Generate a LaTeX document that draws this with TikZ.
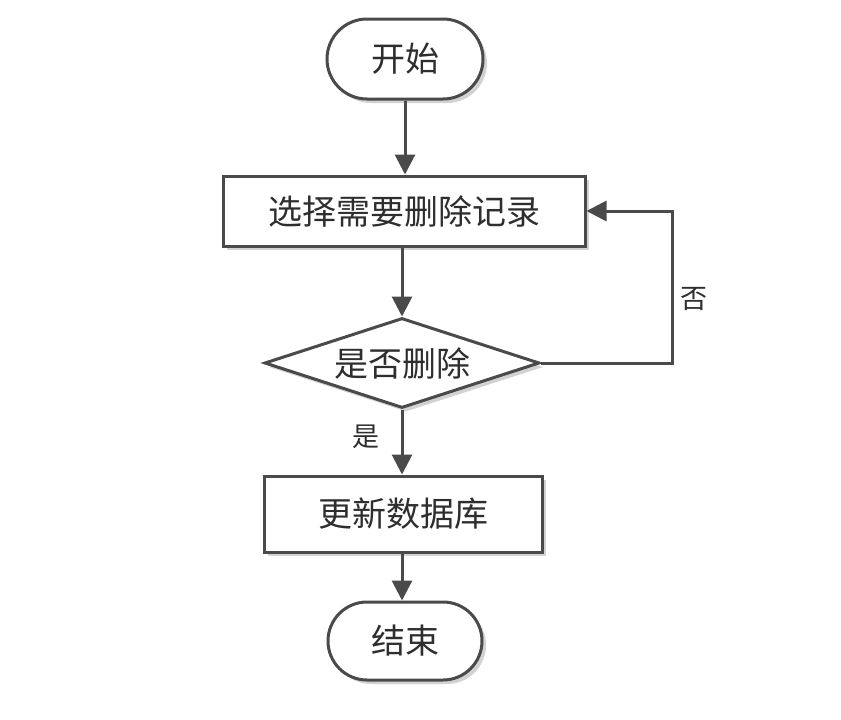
\documentclass[tikz,border=0pt]{standalone}
\usepackage{fontspec}
\newfontfamily\cjk{Noto Sans CJK SC}
\usetikzlibrary{shapes.geometric,shapes.misc,arrows.meta,shadows}
\definecolor{linec}{HTML}{4A4A4A}
\definecolor{textc}{HTML}{2E2E2E}
\begin{document}
\begin{tikzpicture}[x=1pt,y=-1pt,
  base/.style={draw=linec, line width=3pt, fill=white, text=textc, inner sep=0pt,
    font=\cjk\fontsize{34}{38}\selectfont,
    drop shadow={shadow xshift=4pt, shadow yshift=-4pt, fill=gray!35, opacity=1}},
  term/.style={base, rounded rectangle, minimum width=156pt, minimum height=80pt},
  proc/.style={base, rectangle},
  decide/.style={base, diamond, aspect=3, minimum width=275pt, minimum height=90pt},
  arr/.style={draw=linec, line width=3pt, -{Triangle[length=20pt,width=20pt]}},
  lab/.style={text=textc, font=\cjk\fontsize{27}{30}\selectfont, inner sep=0pt}]
\useasboundingbox (0,0) rectangle (841,720);
\node[term] (start) at (405,59) {开始};
\node[proc, minimum width=362pt, minimum height=70pt] (sel) at (404,211) {选择需要删除记录};
\node[decide] (dec) at (402,363) {是否删除};
\node[proc, minimum width=278pt, minimum height=76pt] (upd) at (403,514) {更新数据库};
\node[term, minimum width=154pt, minimum height=78pt] (end) at (405,641) {结束};
\coordinate (c) at (672,363);
\draw[arr] (start.south) -- (start.south |- sel.north);
\draw[arr] (dec.north |- sel.south) -- (dec.north);
\draw[arr] (dec.south) -- (dec.south |- upd.north);
\draw[arr] (dec.south |- upd.south) -- (dec.south |- end.north);
\draw[arr] (dec.east) -- (c) |- (sel.east);
\node[lab] (no) at (694,299) {否};
\node[lab] (yes) at (366,437) {是};
\end{tikzpicture}
\end{document}
